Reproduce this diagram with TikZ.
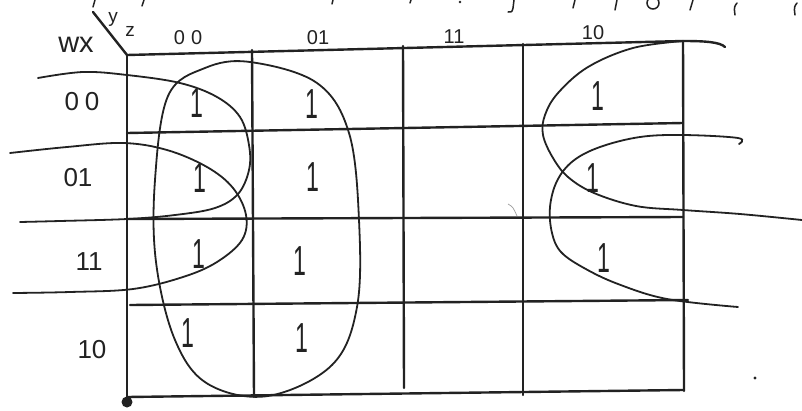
\documentclass[tikz,border=0pt]{standalone}
\usepackage{fontspec}
\setmainfont{Liberation Sans}
\definecolor{ink}{HTML}{222222}
\begin{document}
\begin{tikzpicture}[x=1pt,y=-1pt,
  gridline/.style={draw=ink,line width=2.4pt,line cap=round},
  loopline/.style={draw=ink,line width=1.8pt,line cap=round},
  scrib/.style={draw=ink,line width=1.5pt,line cap=round},
  one/.style={text=ink,font=\fontsize{42}{42}\selectfont,xscale=0.55,inner sep=0pt},
  rowlab/.style={text=ink,font=\fontsize{26}{26}\selectfont,inner sep=0pt},
  collab/.style={text=ink,font=\fontsize{20}{20}\selectfont,inner sep=0pt},
  varlab/.style={text=ink,font=\fontsize{29}{29}\selectfont,inner sep=0pt},
  smallvar/.style={text=ink,font=\fontsize{19}{19}\selectfont,inner sep=0pt}]
\useasboundingbox (0,0) rectangle (802,410);
\fill[white] (0,0) rectangle (802,410);

% grid corners
\coordinate (tl) at (127,55);
\coordinate (d0) at (93,12);

% grid: verticals
\draw[gridline] (127,55) -- (127,399);
\draw[gridline] (252,50) -- (254,397);
\draw[gridline] (403,46) -- (404,388);
\draw[gridline] (523,44) -- (523,395);
\draw[gridline] (683,41) -- (684,391);
% grid: horizontals
\draw[gridline] (127,55) -- (683,41) .. controls (705,41) and (720,42) .. (725,47);
\draw[gridline] (127,133) -- (683,123);
\draw[gridline] (127,219) -- (683,217);
\draw[gridline] (130,305) -- (688,300);
\draw[gridline] (127,397) -- (683,390);
% diagonal
\draw[gridline] (tl) -- (d0);
% corner blob
\fill[ink] (127,402) circle (5.5);

% variable labels
\node[varlab] (wx) at (76,45) {wx};
\node[smallvar] (yv) at (113,19) {y};
\node[smallvar] (zv) at (130,31) {z};

% column labels
\node[collab] (c00) at (188,38) {0\hspace{6pt}0};
\node[collab] (c01) at (318,38) {01};
\node[collab] (c11) at (454,37) {11};
\node[collab] (c10) at (593,33) {10};

% row labels
\node[rowlab] (r00) at (82,102) {0\hspace{6pt}0};
\node[rowlab] (r01) at (78,178) {01};
\node[rowlab] (r11) at (89,262) {11};
\node[rowlab] (r10) at (92,350) {10};

% cell ones
\node[one] (m0000) at (197,103) {1};
\node[one] (m0100) at (200,178) {1};
\node[one] (m1100) at (199,254) {1};
\node[one] (m1000) at (188,333) {1};
\node[one] (m0001) at (312,104) {1};
\node[one] (m0101) at (313,177) {1};
\node[one] (m1101) at (300,261) {1};
\node[one] (m1001) at (302,338) {1};
\node[one] (m0010) at (598,96) {1};
\node[one] (m0110) at (593,178) {1};
\node[one] (m1110) at (604,258) {1};

% big group (cols 00-01, all rows)
\draw[loopline] plot[smooth cycle,tension=0.6] coordinates {(250,62) (317,83) (349,133) (359,220) (357,307) (332,365) (268,396) (208,384) (175,340) (156,262) (155,180) (168,96) (205,68)};

% loop around row 00 (wrap from left)
\draw[loopline] plot[smooth,tension=0.6] coordinates {(38,78) (83,72) (127,75) (180,83) (217,97) (240,117) (249,145) (249,170) (238,194) (215,208) (175,215) (127,219) (60,221) (20,222)};
% loop around rows 01-11 (wrap from left)
\draw[loopline] plot[smooth,tension=0.6] coordinates {(10,153) (67,147) (123,143) (167,150) (207,167) (233,188) (246,215) (242,240) (217,262) (183,277) (133,289) (70,292) (13,293)};

% right loops (col 10)
\draw[loopline] plot[smooth,tension=0.6] coordinates {(683,41) (633,48) (588,67) (558,93) (545,115) (543,135) (553,158) (568,177) (594,193) (636,206) (683,210) (740,214) (802,220)};
\draw[loopline] plot[smooth,tension=0.6] coordinates {(739,144) (738,138) (683,135) (640,137) (600,147) (573,161) (557,181) (550,207) (552,233) (561,252) (584,268) (618,284) (667,299) (738,307)};

% faint marks
\draw[ink!45,line width=0.7pt] (508,204) .. controls (513,207) .. (517,216);
\fill[ink] (755,378) circle (1.6);

% cut-off writing along the top edge
\draw[scrib] (95,0) -- (93,7);
\draw[scrib] (144,0) -- (142,6);
\draw[scrib] (333,0) -- (332,4);
\draw[scrib] (411,0) -- (410,3);
\fill[ink] (460,2) circle (1.4);
\draw[scrib] (514,0) -- (513,8) .. controls (512,12) .. (508,12);
\draw[scrib] (575,0) -- (573,8);
\draw[scrib] (617,0) -- (615,10);
\draw[scrib] (653,3) circle (6);
\draw[scrib] (693,0) -- (690,10);
\draw[scrib] (737,3) .. controls (734,7) .. (735,15);
\draw[scrib] (797,3) .. controls (794,7) .. (795,15);
\end{tikzpicture}
\end{document}
